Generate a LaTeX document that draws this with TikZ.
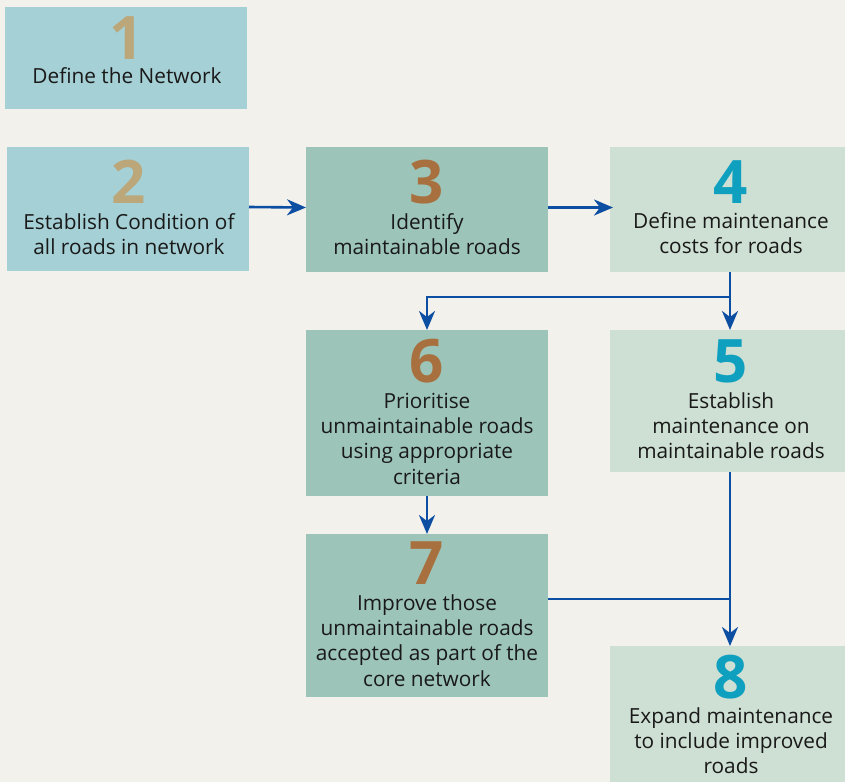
\documentclass[tikz,border=0pt]{standalone}
\usepackage{fontspec}
\setmainfont{Open Sans}
\usetikzlibrary{arrows.meta}
\definecolor{bgc}{HTML}{F3F1EC}
\definecolor{boxa}{HTML}{A5D0D5}
\definecolor{boxb}{HTML}{9CC4B8}
\definecolor{boxc}{HTML}{CEDFD3}
\definecolor{numa}{HTML}{BBA77A}
\definecolor{numb}{HTML}{A8703E}
\definecolor{numc}{HTML}{0FA0C0}
\definecolor{arr}{HTML}{0B4EA2}
\tikzset{
  box/.style={inner sep=0pt, outer sep=0pt, draw=none},
  num/.style={inner sep=0pt, anchor=base, font=\fontsize{60}{60}\selectfont\bfseries},
  txt/.style={inner sep=0pt, anchor=north, align=center, font=\fontsize{20.8}{25.3}\selectfont, text=black!90},
  flow/.style={draw=arr, line width=2.6pt, -{Stealth[length=19pt,width=16pt,inset=6pt]}},
  link/.style={draw=arr, line width=2.6pt}
}
\begin{document}
\begin{tikzpicture}[x=1pt,y=-1pt]
\useasboundingbox (0,0) rectangle (845,782);
\fill[bgc] (0,0) rectangle (845,782);
% boxes
\node[box, fill=boxa, minimum width=242pt, minimum height=102pt] (b1) at (126,58) {};
\node[box, fill=boxa, minimum width=242pt, minimum height=124pt] (b2) at (128,209) {};
\node[box, fill=boxb, minimum width=242pt, minimum height=125pt] (b3) at (427,209.5) {};
\node[box, fill=boxc, minimum width=235pt, minimum height=125pt] (b4) at (727.5,209.5) {};
\node[box, fill=boxc, minimum width=235pt, minimum height=142pt] (b5) at (727.5,401) {};
\node[box, fill=boxb, minimum width=242pt, minimum height=166pt] (b6) at (427,413) {};
\node[box, fill=boxb, minimum width=242pt, minimum height=163pt] (b7) at (427,615.5) {};
\node[box, fill=boxc, minimum width=235pt, minimum height=136pt] (b8) at (727.5,714) {};
% numbers
\node[num, text=numa] (n1) at (127,59) {1};
\node[num, text=numa] (n2) at (129,203) {2};
\node[num, text=numb] (n3) at (427,203) {3};
\node[num, text=numc] (n4) at (731,203) {4};
\node[num, text=numc] (n5) at (731,382) {5};
\node[num, text=numb] (n6) at (427,382) {6};
\node[num, text=numb] (n7) at (427,584) {7};
\node[num, text=numc] (n8) at (731,698) {8};
% texts (first baseline minus strut height)
\node[txt] (t1) at (127,83-17.71) {\strut Define the Network};
\node[txt] (t2) at (129,229-17.71) {\strut Establish Condition of\\all roads in network};
\node[txt] (t3) at (427,229-17.71) {\strut Identify\\maintainable roads};
\node[txt] (t4) at (731,228-17.71) {\strut Define maintenance\\costs for roads};
\node[txt] (t5) at (731,408-17.71) {\strut Establish\\maintenance on\\maintainable roads};
\node[txt] (t6) at (427,408-17.71) {\strut Prioritise\\unmaintainable roads\\using appropriate\\criteria};
\node[txt] (t7) at (427,610-17.71) {\strut Improve those\\unmaintainable roads\\accepted as part of the\\core network};
\node[txt] (t8) at (731,723-17.71) {\strut Expand maintenance\\to include improved\\roads};
% junctions
\coordinate (j4) at (730,297);
\coordinate (j78) at (730,599);
% connectors
\draw[flow] ([yshift=2pt]b2.east) -- ([yshift=2pt]b3.west);
\draw[flow] ([yshift=2pt]b3.east) -- ([yshift=2pt,xshift=3pt]b4.west);
\draw[flow] (b4.south -| j4) -- (b5.north -| j4);
\draw[flow] (j4) -| (b6.north);
\draw[flow] (b6.south) -- (b7.north);
\draw[flow] (b5.south -| j78) -- (b8.north -| j78);
\draw[link] (b7.east |- j78) -- (j78);
\end{tikzpicture}
\end{document}
